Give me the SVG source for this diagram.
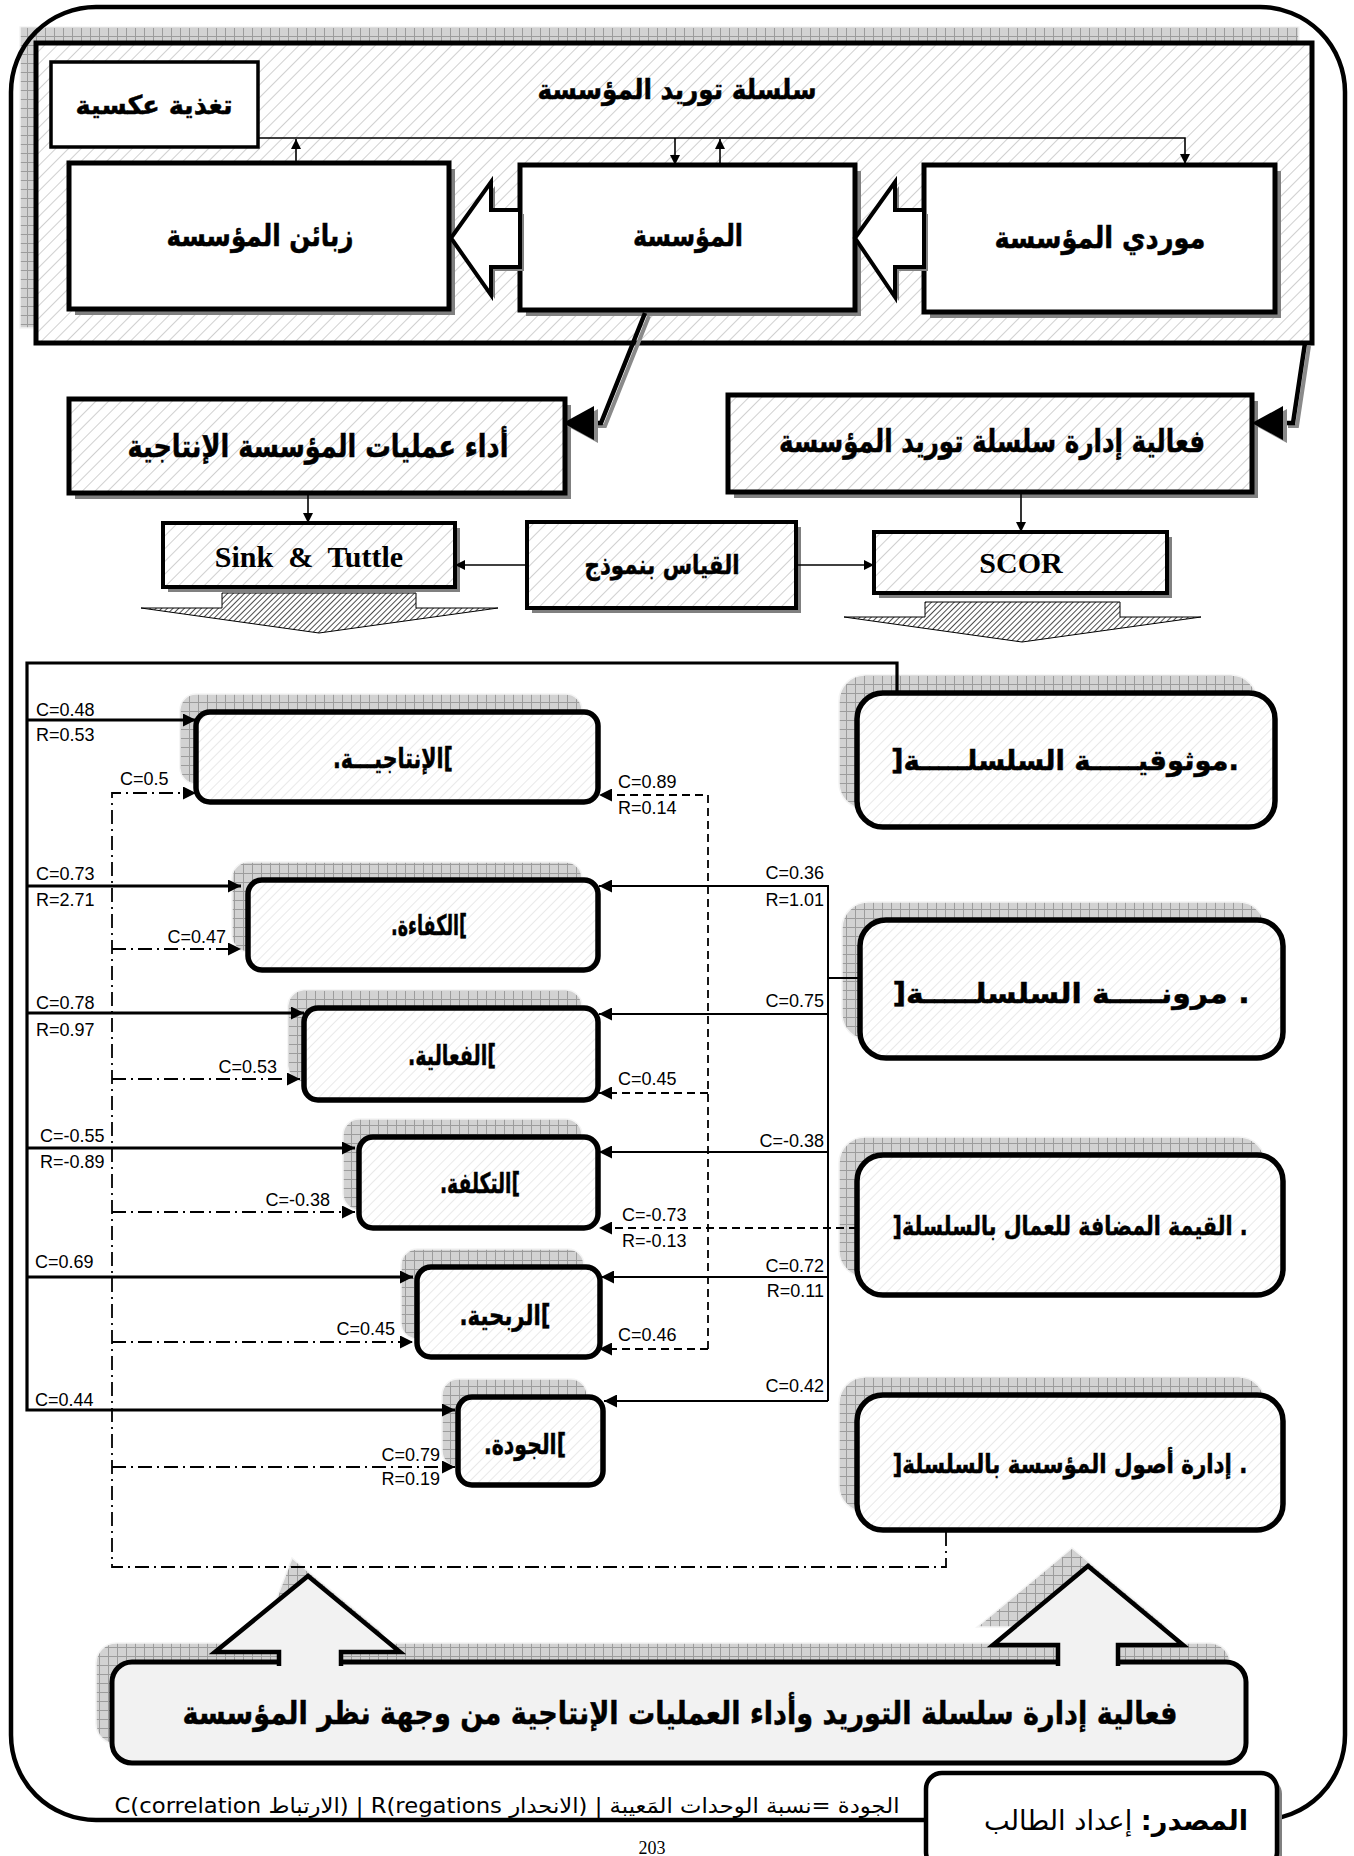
<svg xmlns="http://www.w3.org/2000/svg" width="1354" height="1856" viewBox="0 0 1354 1856">
<defs>
<pattern id="hatch" width="9" height="9" patternUnits="userSpaceOnUse" patternTransform="rotate(45)"><rect width="9" height="9" fill="#fff"/><line x1="0" y1="0" x2="0" y2="9" stroke="#c4c4c4" stroke-width="1.6"/></pattern>
<pattern id="hatchL" width="7" height="7" patternUnits="userSpaceOnUse" patternTransform="rotate(45)"><rect width="7" height="7" fill="#fff"/><line x1="0" y1="0" x2="0" y2="7" stroke="#dedede" stroke-width="1.3"/></pattern>
<pattern id="hatchD" width="4" height="4" patternUnits="userSpaceOnUse" patternTransform="rotate(45)"><rect width="4" height="4" fill="#fff"/><line x1="0" y1="0" x2="0" y2="4" stroke="#000" stroke-width="1.4"/></pattern>
<pattern id="grid" width="9" height="9" patternUnits="userSpaceOnUse"><rect width="9" height="9" fill="#d2d2d2"/><path d="M0,0.5H9M0.5,0V9" stroke="#9c9c9c" stroke-width="1"/></pattern>
<marker id="a" viewBox="0 0 10 10" refX="10" refY="5" markerWidth="12" markerHeight="10" markerUnits="userSpaceOnUse" orient="auto"><path d="M0,0L10,5L0,10z" fill="#000"/></marker>
<marker id="ab" viewBox="0 0 10 10" refX="10" refY="5" markerWidth="15" markerHeight="13" markerUnits="userSpaceOnUse" orient="auto"><path d="M0,0L10,5L0,10z" fill="#000"/></marker>
</defs>
<style>
.ar{font-family:"DejaVu Sans","Noto Sans",sans-serif;font-weight:bold;fill:#000;stroke:#000;stroke-width:0.5px;text-anchor:middle}
.lat{font-family:"Liberation Serif",serif;font-weight:bold;fill:#000;text-anchor:middle}
.lb{font-family:"Liberation Sans Narrow","Liberation Sans",sans-serif;font-size:18px;fill:#000}
.lbr{font-family:"Liberation Sans Narrow","Liberation Sans",sans-serif;font-size:18px;fill:#000;text-anchor:end}
.box{fill:#fff;stroke:#000;stroke-width:5}
.hbox{fill:url(#hatch);stroke:#000;stroke-width:5}
.rbox{fill:url(#hatchL);stroke:#000;stroke-width:5.5}
.sh{fill:#808080}
.gsh{fill:url(#grid);stroke:#f4f4f4;stroke-width:1.5}
.thin{fill:none;stroke:#000;stroke-width:1.6}
.thick{fill:none;stroke:#000;stroke-width:3.2}
.mid{fill:none;stroke:#000;stroke-width:2}
.dd{fill:none;stroke:#000;stroke-width:1.8;stroke-dasharray:14 5 2 5}
.ds{fill:none;stroke:#000;stroke-width:1.8;stroke-dasharray:8 5}
</style>
<rect width="1354" height="1856" fill="#fff"/>

<g id="supply-chain">
<rect class="gsh" x="20" y="27" width="1279" height="301"/>
<rect class="hbox" x="36" y="43" width="1276" height="300"/>
<text class="ar" x="677" y="99" font-size="28" textLength="279" lengthAdjust="spacingAndGlyphs">سلسلة توريد المؤسسة</text>
</g>

<g id="frame"><rect x="11" y="7" width="1334" height="1813" rx="85" fill="none" stroke="#000" stroke-width="4.5"/></g>

<g id="feedback">
<rect x="51" y="62" width="207" height="85" fill="#fff" stroke="#000" stroke-width="3.5"/>
<text class="ar" x="154" y="114" font-size="26" textLength="157" lengthAdjust="spacingAndGlyphs">تغذية عكسية</text>
</g>

<g id="customers">
<rect class="sh" x="75" y="169" width="380" height="146"/>
<rect class="box" x="69" y="163" width="380" height="146"/>
<text class="ar" x="260" y="246" font-size="30" textLength="187" lengthAdjust="spacingAndGlyphs">زبائن المؤسسة</text>
</g>

<g id="firm">
<rect class="sh" x="526" y="171" width="335" height="145"/>
<rect class="box" x="520" y="165" width="335" height="145"/>
<text class="ar" x="688" y="246" font-size="30" textLength="110" lengthAdjust="spacingAndGlyphs">المؤسسة</text>
</g>

<g id="suppliers">
<rect class="sh" x="930" y="171" width="351" height="147"/>
<rect class="box" x="924" y="165" width="351" height="147"/>
<text class="ar" x="1100" y="248" font-size="30" textLength="211" lengthAdjust="spacingAndGlyphs">موردي المؤسسة</text>
</g>

<g id="flow-arrows">
<polygon points="455,242 495,186 495,214 524,214 524,271 495,271 495,299" fill="#808080"/>
<polygon points="451,238 491,182 491,210 520,210 520,267 491,267 491,295" fill="#fff" stroke="#000" stroke-width="4"/>
<polygon points="859,242 899,186 899,214 928,214 928,271 899,271 899,301" fill="#808080"/>
<polygon points="855,238 895,182 895,210 924,210 924,267 895,267 895,297" fill="#fff" stroke="#000" stroke-width="4"/>
</g>

<g id="ops-performance">
<rect class="sh" x="75" y="405" width="496" height="94"/>
<rect class="hbox" x="69" y="399" width="496" height="94"/>
<text class="ar" x="318" y="457" font-size="31" textLength="381" lengthAdjust="spacingAndGlyphs">أداء عمليات المؤسسة الإنتاجية</text>
</g>

<g id="scm-effectiveness">
<rect class="sh" x="734" y="401" width="524" height="97"/>
<rect class="hbox" x="728" y="395" width="524" height="97"/>
<text class="ar" x="992" y="452" font-size="31" textLength="426" lengthAdjust="spacingAndGlyphs">فعالية إدارة سلسلة توريد  المؤسسة</text>
</g>

<g id="sink-tuttle">
<rect class="sh" x="168" y="528" width="292" height="64"/>
<rect class="hbox" x="163" y="523" width="292" height="64" style="stroke-width:4"/>
<text class="lat" x="309" y="567" font-size="30" xml:space="preserve">Sink  &amp;  Tuttle</text>
<polygon points="222,593 416,593 416,608 498,608 319,633 141,608 222,608" fill="url(#hatchD)" stroke="#000" stroke-width="1"/>
</g>

<g id="measure">
<rect class="sh" x="532" y="527" width="269" height="86"/>
<rect class="hbox" x="527" y="522" width="269" height="86" style="stroke-width:4"/>
<text class="ar" x="662" y="574" font-size="26" textLength="155" lengthAdjust="spacingAndGlyphs">القياس بنموذج</text>
</g>

<g id="scor">
<rect class="sh" x="879" y="537" width="293" height="61"/>
<rect class="hbox" x="874" y="532" width="293" height="61" style="stroke-width:4"/>
<text class="lat" x="1021" y="573" font-size="30">SCOR</text>
<polygon points="925,602 1120,602 1120,617 1201,617 1022,642 844,617 925,617" fill="url(#hatchD)" stroke="#000" stroke-width="1"/>
</g>

<g id="productivity">
<rect class="gsh" x="180" y="694" width="402" height="90" rx="16"/>
<rect class="rbox" x="196" y="712" width="402" height="90" rx="14"/>
<text class="ar" x="393" y="768" font-size="28" textLength="120" lengthAdjust="spacingAndGlyphs">.الإنتاجيـــة[</text>
</g>
<g id="efficiency">
<rect class="gsh" x="232" y="862" width="350" height="90" rx="16"/>
<rect class="rbox" x="248" y="880" width="350" height="90" rx="14"/>
<text class="ar" x="429" y="935" font-size="28" textLength="76" lengthAdjust="spacingAndGlyphs">.الكفاءة[</text>
</g>
<g id="effectiveness">
<rect class="gsh" x="288" y="990" width="294" height="92" rx="16"/>
<rect class="rbox" x="304" y="1008" width="294" height="92" rx="14"/>
<text class="ar" x="452" y="1065" font-size="28" textLength="88" lengthAdjust="spacingAndGlyphs">.الفعالية[</text>
</g>
<g id="cost">
<rect class="gsh" x="343" y="1119" width="239" height="91" rx="16"/>
<rect class="rbox" x="359" y="1137" width="239" height="91" rx="14"/>
<text class="ar" x="480" y="1193" font-size="28" textLength="80" lengthAdjust="spacingAndGlyphs">.التكلفة[</text>
</g>
<g id="profitability">
<rect class="gsh" x="401" y="1249" width="183" height="90" rx="16"/>
<rect class="rbox" x="417" y="1267" width="183" height="90" rx="14"/>
<text class="ar" x="505" y="1325" font-size="28" textLength="91" lengthAdjust="spacingAndGlyphs">.الربحية[</text>
</g>
<g id="quality">
<rect class="gsh" x="442" y="1379" width="145" height="88" rx="16"/>
<rect class="rbox" x="458" y="1397" width="145" height="88" rx="14"/>
<text class="ar" x="525" y="1454" font-size="28" textLength="82" lengthAdjust="spacingAndGlyphs">.الجودة[</text>
</g>

<g id="reliability">
<rect class="gsh" x="839" y="675" width="418" height="134" rx="26"/>
<rect class="rbox" x="857" y="693" width="418" height="134" rx="26"/>
<text class="ar" x="1065" y="770" font-size="28" textLength="348" lengthAdjust="spacingAndGlyphs">]موثوقيـــــة السلسلـــــة.</text>
</g>
<g id="flexibility">
<rect class="gsh" x="842" y="902" width="423" height="138" rx="26"/>
<rect class="rbox" x="860" y="920" width="423" height="138" rx="26"/>
<text class="ar" x="1071" y="1003" font-size="28" textLength="357" lengthAdjust="spacingAndGlyphs">]مرونـــــة السلسلـــــة .</text>
</g>
<g id="added-value">
<rect class="gsh" x="839" y="1137" width="426" height="140" rx="26"/>
<rect class="rbox" x="857" y="1155" width="426" height="140" rx="26"/>
<text class="ar" x="1070" y="1235" font-size="26" textLength="355" lengthAdjust="spacingAndGlyphs">]القيمة المضافة للعمال بالسلسلة .</text>
</g>
<g id="assets">
<rect class="gsh" x="839" y="1377" width="426" height="135" rx="26"/>
<rect class="rbox" x="857" y="1395" width="426" height="135" rx="26"/>
<text class="ar" x="1070" y="1473" font-size="26" textLength="355" lengthAdjust="spacingAndGlyphs">]إدارة أصول المؤسسة بالسلسلة .</text>
</g>

<g id="conclusion">
<rect class="gsh" x="96" y="1643" width="1134" height="101" rx="20"/>
<polygon class="gsh" points="263,1634 292,1558 384,1634"/>
<polygon class="gsh" points="977,1627 1072,1548 1167,1627"/>
<rect x="112" y="1662" width="1134" height="101" rx="20" fill="#f2f2f2" stroke="#000" stroke-width="5"/>
<rect x="281" y="1655" width="58" height="14" fill="#f2f2f2"/>
<rect x="1060" y="1655" width="56" height="14" fill="#f2f2f2"/>
<path d="M279,1666V1652H215L308,1576L400,1652H341V1666" fill="#f2f2f2" stroke="#000" stroke-width="4.5"/>
<path d="M1058,1666V1645H993L1088,1566L1183,1645H1118V1666" fill="#f2f2f2" stroke="#000" stroke-width="4.5"/>
<text class="ar" x="680" y="1724" font-size="32" textLength="995" lengthAdjust="spacingAndGlyphs">فعالية إدارة سلسلة التوريد وأداء العمليات الإنتاجية من وجهة نظر المؤسسة</text>
</g>

<g id="legend">
<text x="507" y="1813" font-family="'DejaVu Sans','Liberation Sans',sans-serif" font-size="21" text-anchor="middle" direction="rtl" textLength="785" lengthAdjust="spacingAndGlyphs">الجودة =نسبة الوحدات المَعيبة | (الانحدار R(regations | (الارتباط C(correlation</text>
</g>

<g id="source">
<rect class="sh" x="931" y="1778" width="351" height="95" rx="16"/>
<rect x="926" y="1773" width="351" height="95" rx="16" fill="#fff" stroke="#000" stroke-width="4.5"/>
<text x="1116" y="1830" font-family="'DejaVu Sans',sans-serif" font-size="27" text-anchor="middle" direction="rtl" textLength="264" lengthAdjust="spacingAndGlyphs"><tspan font-weight="bold">المصدر:</tspan> إعداد الطالب</text>
</g>

<g id="page-number">
<text x="652" y="1854" font-family="'Liberation Serif',serif" font-size="18" text-anchor="middle">203</text>
</g>

<g id="connectors">
<path class="thin" d="M258,138H1185V164" marker-end="url(#a)"/>
<line class="thin" x1="296" y1="163" x2="296" y2="139" marker-end="url(#a)"/>
<line class="thin" x1="675" y1="138" x2="675" y2="165" marker-end="url(#a)"/>
<line class="thin" x1="720" y1="165" x2="720" y2="139" marker-end="url(#a)"/>

<path d="M649,316L605,426H598" fill="none" stroke="#8a8a8a" stroke-width="4"/>
<path d="M645,313L601,423H592" fill="none" stroke="#000" stroke-width="4.5"/>
<polygon points="567,426 598,409 598,443" fill="#8a8a8a"/>
<polygon points="563,423 594,406 594,440" fill="#000"/>
<path d="M1309,346L1297,426H1288" fill="none" stroke="#8a8a8a" stroke-width="4"/>
<path d="M1305,343L1293,423H1282" fill="none" stroke="#000" stroke-width="4.5"/>
<polygon points="1256,426 1287,409 1287,443" fill="#8a8a8a"/>
<polygon points="1252,423 1283,406 1283,440" fill="#000"/>

<line class="thin" x1="308" y1="493" x2="308" y2="523" marker-end="url(#a)"/>
<line class="thin" x1="1021" y1="492" x2="1021" y2="532" marker-end="url(#a)"/>
<line class="thin" x1="527" y1="565" x2="455" y2="565" marker-end="url(#a)"/>
<line class="thin" x1="796" y1="565" x2="874" y2="565" marker-end="url(#a)"/>

<path class="thick" d="M897,693V663H27V1410H455" marker-end="url(#ab)"/>
<line class="thick" x1="27" y1="720" x2="196" y2="720" marker-end="url(#ab)"/>
<line class="thick" x1="27" y1="886" x2="241" y2="886" marker-end="url(#ab)"/>
<line class="thick" x1="27" y1="1013" x2="304" y2="1013" marker-end="url(#ab)"/>
<line class="thick" x1="27" y1="1148" x2="355" y2="1148" marker-end="url(#ab)"/>
<line class="thick" x1="27" y1="1277" x2="413" y2="1277" marker-end="url(#ab)"/>

<path class="dd" d="M946,1532V1567H112V793H196" marker-end="url(#ab)"/>
<line class="dd" x1="112" y1="949" x2="241" y2="949" marker-end="url(#ab)"/>
<line class="dd" x1="112" y1="1079" x2="300" y2="1079" marker-end="url(#ab)"/>
<line class="dd" x1="112" y1="1212" x2="355" y2="1212" marker-end="url(#ab)"/>
<line class="dd" x1="112" y1="1342" x2="413" y2="1342" marker-end="url(#ab)"/>
<line class="dd" x1="112" y1="1467" x2="455" y2="1467" marker-end="url(#ab)"/>

<path class="ds" d="M708,1349V795H599" marker-end="url(#ab)"/>
<line class="ds" x1="708" y1="1093" x2="599" y2="1093" marker-end="url(#ab)"/>
<line class="ds" x1="857" y1="1228" x2="599" y2="1228" marker-end="url(#ab)"/>
<line class="ds" x1="708" y1="1349" x2="599" y2="1349" marker-end="url(#ab)"/>

<line class="mid" x1="860" y1="978" x2="828" y2="978"/>
<path class="mid" d="M828,1401V886H599" marker-end="url(#ab)"/>
<line class="mid" x1="828" y1="1014" x2="599" y2="1014" marker-end="url(#ab)"/>
<line class="mid" x1="828" y1="1152" x2="599" y2="1152" marker-end="url(#ab)"/>
<line class="mid" x1="828" y1="1277" x2="601" y2="1277" marker-end="url(#ab)"/>
<line class="mid" x1="828" y1="1401" x2="604" y2="1401" marker-end="url(#ab)"/>
</g>

<g id="labels">
<text class="lb" x="36" y="716">C=0.48</text>
<text class="lb" x="36" y="741">R=0.53</text>
<text class="lb" x="36" y="880">C=0.73</text>
<text class="lb" x="36" y="906">R=2.71</text>
<text class="lb" x="36" y="1009">C=0.78</text>
<text class="lb" x="36" y="1036">R=0.97</text>
<text class="lb" x="40" y="1142">C=-0.55</text>
<text class="lb" x="40" y="1168">R=-0.89</text>
<text class="lb" x="35" y="1268">C=0.69</text>
<text class="lb" x="35" y="1406">C=0.44</text>

<text class="lb" x="120" y="785">C=0.5</text>
<text class="lbr" x="226" y="943">C=0.47</text>
<text class="lbr" x="277" y="1073">C=0.53</text>
<text class="lbr" x="330" y="1206">C=-0.38</text>
<text class="lbr" x="395" y="1335">C=0.45</text>
<text class="lbr" x="440" y="1461">C=0.79</text>
<text class="lbr" x="440" y="1485">R=0.19</text>

<text class="lb" x="618" y="788">C=0.89</text>
<text class="lb" x="618" y="814">R=0.14</text>
<text class="lb" x="618" y="1085">C=0.45</text>
<text class="lb" x="622" y="1221">C=-0.73</text>
<text class="lb" x="622" y="1247">R=-0.13</text>
<text class="lb" x="618" y="1341">C=0.46</text>

<text class="lbr" x="824" y="879">C=0.36</text>
<text class="lbr" x="824" y="906">R=1.01</text>
<text class="lbr" x="824" y="1007">C=0.75</text>
<text class="lbr" x="824" y="1147">C=-0.38</text>
<text class="lbr" x="824" y="1272">C=0.72</text>
<text class="lbr" x="824" y="1297">R=0.11</text>
<text class="lbr" x="824" y="1392">C=0.42</text>
</g>
</svg>
